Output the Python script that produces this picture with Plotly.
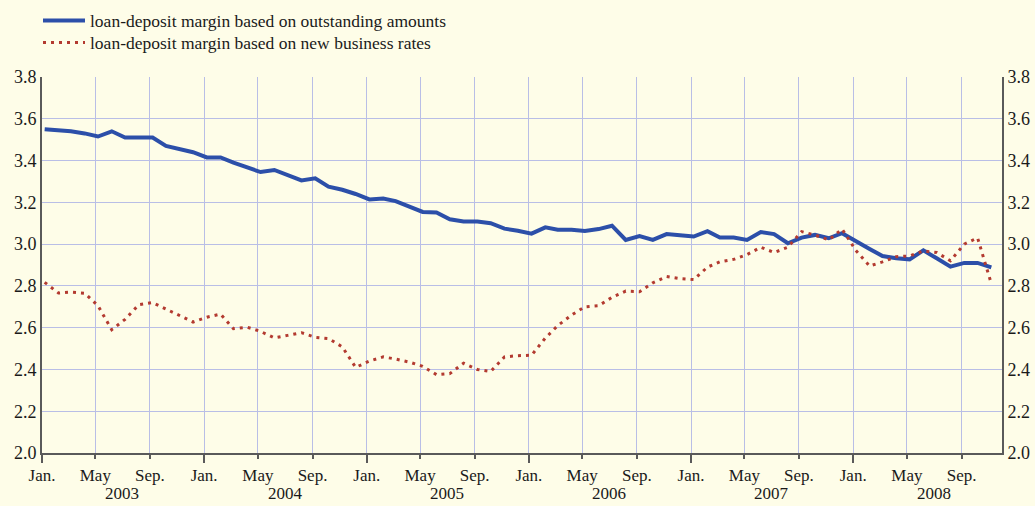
import pandas as pd
import plotly.graph_objects as go

# ---- data (monthly, Jan 2003 - Nov 2008) ----
start_month = "2003-01-01"
n_months = 71
outstanding = [
    3.55, 3.545, 3.54, 3.53, 3.515, 3.54, 3.51, 3.51, 3.51, 3.47, 3.455, 3.44,
    3.415, 3.415, 3.39, 3.365, 3.345, 3.355, 3.33, 3.305, 3.315, 3.275, 3.26, 3.24,
    3.214, 3.218, 3.206, 3.182, 3.154, 3.151, 3.119, 3.108, 3.108, 3.10, 3.074, 3.064,
    3.05, 3.08, 3.069, 3.069, 3.063, 3.072, 3.088, 3.02, 3.039, 3.02, 3.048, 3.042,
    3.036, 3.062, 3.032, 3.032, 3.02, 3.058, 3.048, 3.004, 3.031, 3.044, 3.028, 3.052,
    3.012, 2.977, 2.943, 2.932, 2.927, 2.97, 2.932, 2.892, 2.91, 2.91, 2.889,
]
new_business = [
    2.817, 2.766, 2.77, 2.765, 2.705, 2.59, 2.64, 2.71, 2.72, 2.69, 2.656, 2.627,
    2.65, 2.665, 2.595, 2.602, 2.582, 2.551, 2.563, 2.576, 2.554, 2.548, 2.508, 2.41,
    2.44, 2.46, 2.45, 2.435, 2.415, 2.375, 2.38, 2.43, 2.40, 2.39, 2.46, 2.466,
    2.468, 2.55, 2.61, 2.66, 2.70, 2.705, 2.745, 2.775, 2.772, 2.815, 2.845, 2.835,
    2.83, 2.89, 2.915, 2.927, 2.95, 2.985, 2.96, 2.985, 3.06, 3.043, 3.02, 3.072,
    2.97, 2.895, 2.915, 2.94, 2.943, 2.967, 2.96, 2.92, 3.0, 3.03, 2.81,
]
series_names = [
    "loan-deposit margin based on outstanding amounts",
    "loan-deposit margin based on new business rates",
]
years = [2003, 2004, 2005, 2006, 2007, 2008]
month_tick_months = [1, 5, 9]
month_tick_text = ["Jan.", "May", "Sep."]
y_ticks = [2.0, 2.2, 2.4, 2.6, 2.8, 3.0, 3.2, 3.4, 3.6, 3.8]

# ---- derived ----
dates = pd.date_range(start_month, periods=n_months, freq="MS") + pd.Timedelta(days=6)
tickvals, ticktext = [], []
for yr in years:
    for m, t in zip(month_tick_months, month_tick_text):
        tickvals.append(f"{yr}-{m:02d}-01")
        ticktext.append(t)
jan_ticks = [f"{yr}-01-01" for yr in years]

BG = "#FEFDE8"
GRID = "#B9BEE6"
AXIS = "#5A5A5A"
FONT = "Liberation Serif, Times New Roman, serif"
TXT = "#1a1a1a"

fig = go.Figure()
fig.add_trace(go.Scatter(
    x=dates, y=outstanding, name=series_names[0], mode="lines",
    line=dict(color="#2C4FA9", width=4), legend="legend",
))
fig.add_trace(go.Scatter(
    x=dates, y=new_business, name=series_names[1], mode="lines",
    line=dict(color="#B33A30", width=3, dash="3px,5px"), legend="legend2",
))
# helper traces so the secondary axes render
fig.add_trace(go.Scatter(x=[dates[0]], y=[None], xaxis="x2", yaxis="y",
                         showlegend=False, hoverinfo="skip"))
fig.add_trace(go.Scatter(x=[dates[0]], y=[None], xaxis="x", yaxis="y2",
                         showlegend=False, hoverinfo="skip"))

xrange = ["2003-01-01", "2008-12-01"]
yrange = [2.0, 3.8]

legend_common = dict(
    xref="container", yref="container", x=38 / 1035,
    xanchor="left", yanchor="middle",
    bgcolor="rgba(0,0,0,0)", font=dict(family=FONT, size=17.5, color=TXT),
    itemwidth=42,
)

fig.update_layout(
    width=1035, height=506,
    margin=dict(l=42, r=33, t=77, b=53, autoexpand=False),
    paper_bgcolor=BG, plot_bgcolor=BG,
    font=dict(family=FONT, size=17, color=TXT),
    showlegend=True,
    legend=dict(legend_common, y=1 - 20.7 / 506),
    legend2=dict(legend_common, y=1 - 42.5 / 506),
    xaxis=dict(
        type="date", range=xrange, tickmode="array",
        tickvals=tickvals, ticktext=ticktext, tickangle=0,
        showgrid=True, gridcolor=GRID, gridwidth=1,
        showline=True, linecolor=AXIS, linewidth=2,
        ticks="outside", ticklen=4, tickwidth=1.5, tickcolor=AXIS,
        ticklabelstandoff=2,
        tickfont=dict(family=FONT, size=17, color=TXT),
        zeroline=False,
    ),
    xaxis2=dict(
        type="date", range=xrange, overlaying="x", anchor="y", side="bottom",
        tickmode="array", tickvals=jan_ticks, showticklabels=False,
        showgrid=False, showline=False,
        ticks="outside", ticklen=9, tickwidth=1.5, tickcolor=AXIS,
        zeroline=False,
    ),
    yaxis=dict(
        range=yrange, tickmode="array", tickvals=y_ticks,
        tickformat=".1f",
        showgrid=True, gridcolor=GRID, gridwidth=1,
        showline=True, linecolor=AXIS, linewidth=2,
        ticks="", zeroline=False,
        tickfont=dict(family=FONT, size=18, color=TXT),
    ),
    yaxis2=dict(
        range=yrange, tickmode="array", tickvals=y_ticks,
        tickformat=".1f", overlaying="y", side="right", anchor="x",
        showgrid=False,
        showline=True, linecolor=AXIS, linewidth=2,
        ticks="", zeroline=False,
        tickfont=dict(family=FONT, size=18, color=TXT),
    ),
)

for yr in years:
    fig.add_annotation(
        x=f"{yr}-07-01", xref="x", y=-0.109, yref="paper",
        text=str(yr), showarrow=False, yanchor="middle",
        font=dict(family=FONT, size=17, color=TXT),
    )

page_style = (
    "document.body.style.margin='0';"
    "document.body.style.padding='0';"
    "document.body.style.overflow='hidden';"
    f"document.body.style.background='{BG}';"
)
fig.write_html("out.html", post_script=page_style,
               config={"displayModeBar": False})
